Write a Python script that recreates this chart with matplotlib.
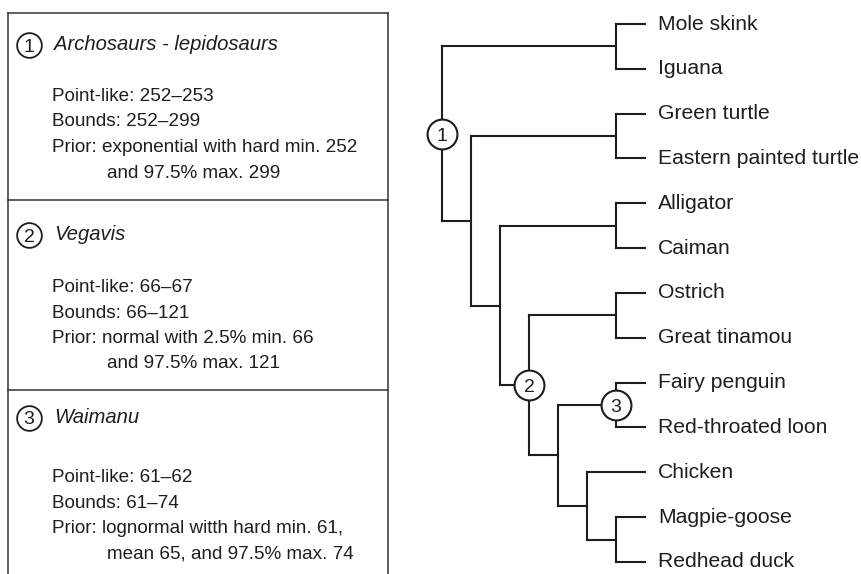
import matplotlib.pyplot as plt
from matplotlib.transforms import offset_copy

plt.rcParams["font.family"] = ["Liberation Sans", "DejaVu Sans"]

INK = "#1e1e1e"

# taxa, top to bottom
taxa = ["Mole skink", "Iguana", "Green turtle", "Eastern painted turtle",
        "Alligator", "Caiman", "Ostrich", "Great tinamou", "Fairy penguin",
        "Red-throated loon", "Chicken", "Magpie-goose", "Redhead duck"]

# topology, nested tuples of taxon indices
tree = ((0, 1), ((2, 3), ((4, 5), ((6, 7), ((8, 9), (10, (11, 12)))))))

# calibrated clades (by member taxa) and their labels
cal_clades = [tuple(range(0, 13)), tuple(range(6, 13)), (8, 9)]
cal_labels = ["1", "2", "3"]

# calibration panel text
cal_names = ["Archosaurs - lepidosaurs", "Vegavis", "Waimanu"]
cal_pointlike = ["252\u2013253", "66\u201367", "61\u201362"]
cal_bounds = ["252\u2013299", "66\u2013121", "61\u201374"]
cal_prior = [("exponential with hard min. 252", "and 97.5% max. 299"),
             ("normal with 2.5% min. 66", "and 97.5% max. 121"),
             ("lognormal witth hard min. 61,", "mean 65, and 97.5% max. 74")]

W, H = 862, 574
fig = plt.figure(figsize=(W / 100, H / 100), dpi=100)

# ---- tree ----
x0_px, step_px = 442, 29.0       # root position, one level
y0_px, leaf_px = 24, 44.83       # first leaf, leaf spacing
n_levels = 7

ax = fig.add_axes([0, 0, 1, 1])
ax.set_xlim(-x0_px / step_px, (W - x0_px) / step_px)
ax.set_ylim((H - y0_px) / leaf_px, -y0_px / leaf_px)
ax.axis("off")

nodes = {}


def leaves_of(node):
    if isinstance(node, int):
        return (node,)
    out = ()
    for c in node:
        out += leaves_of(c)
    return out


def layout(node):
    # returns (x, y, height)
    if isinstance(node, int):
        return n_levels, node, 0
    kids = [layout(c) for c in node]
    h = 1 + max(k[2] for k in kids)
    x = n_levels - h
    y = sum(k[1] for k in kids) / len(kids)
    ys = [k[1] for k in kids]
    ax.plot([x, x], [min(ys), max(ys)], color=INK, lw=1.5,
            solid_capstyle="projecting", zorder=2)
    for kx, ky, _ in kids:
        ax.plot([x, kx], [ky, ky], color=INK, lw=1.5,
                solid_capstyle="projecting", zorder=2)
    nodes[tuple(sorted(leaves_of(node)))] = (x, y)
    return x, y, h


layout(tree)

for i, name in enumerate(taxa):
    ax.text(n_levels + 13 / step_px, i, name, fontsize=15.2, color=INK,
            ha="left", va="center")

digit_tr = offset_copy(ax.transData, fig=fig, y=-7, units="dots")
for clade, lab in zip(cal_clades, cal_labels):
    x, y = nodes[tuple(sorted(clade))]
    ax.plot(x, y, "o", ms=21.5, mfc="white", mec=INK, mew=1.5, zorder=3)
    ax.text(x, y, lab, fontsize=14, color=INK, ha="center", va="baseline",
            transform=digit_tr, zorder=4)

# ---- calibration panel ----
bx = fig.add_axes([0, 0, 1, 1], facecolor="none")
bx.set_xlim(0, W)
bx.set_ylim(H, 0)
bx.axis("off")

left, right = 8, 388
tops = [13, 200, 390]
title_dy = [37, 40, 33]
body_dy = [88, 92, 92]
line_gap = 25.5

bx.plot([left, left], [tops[0], H + 5], color="#333333", lw=1.1)
bx.plot([right, right], [tops[0], H + 5], color="#333333", lw=1.1)
for t in tops:
    bx.plot([left, right], [t, t], color="#333333", lw=1.1)

box_digit_tr = offset_copy(bx.transData, fig=fig, y=-7, units="dots")
for k in range(3):
    ty = tops[k] + title_dy[k]
    bx.plot(29, ty - 5.5, "o", ms=17.8, mfc="white", mec=INK, mew=1.3)
    bx.text(29, ty - 5.5, cal_labels[k], fontsize=14, color=INK,
            ha="center", va="baseline", transform=box_digit_tr)
    bx.text(54, ty, cal_names[k], fontsize=14.6, style="italic", color=INK,
            ha="left", va="baseline")
    by = tops[k] + body_dy[k]
    lines = ["Point-like: " + cal_pointlike[k],
             "Bounds: " + cal_bounds[k],
             "Prior: " + cal_prior[k][0]]
    for j, s in enumerate(lines):
        bx.text(52, by + j * line_gap, s, fontsize=13.6, color=INK,
                ha="left", va="baseline")
    bx.text(107, by + 3 * line_gap, cal_prior[k][1], fontsize=13.6,
            color=INK, ha="left", va="baseline")

fig.savefig("out.png", dpi=100)
